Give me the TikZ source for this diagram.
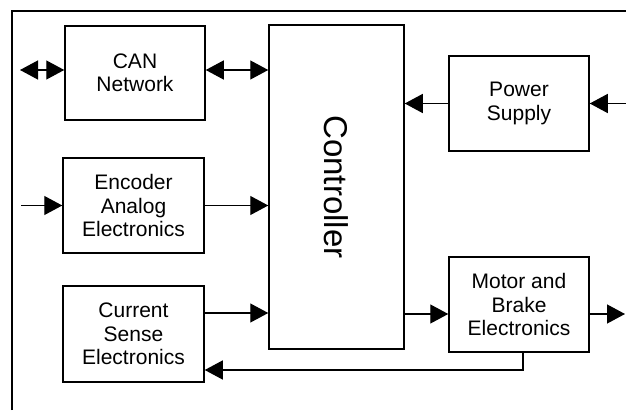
\documentclass[tikz,border=0pt]{standalone}
\usepackage{fontspec}
\setmainfont{Liberation Sans}
\usepackage{tikz}
\usetikzlibrary{arrows.meta,positioning,calc}

\begin{document}
\begin{tikzpicture}[x=1pt,y=1pt,>={Triangle[length=18pt,width=19pt]},
  blk/.style={draw,line width=1.5pt,align=center,inner sep=0pt,
    font=\fontsize{21}{23.5}\selectfont},
  sig/.style={line width=1.3pt}]
  \useasboundingbox (0,0) rectangle (626,410);
  % frame (cut off at right and bottom)
  \draw[line width=1.5pt] (12,0) -- (12,399) -- (626,399);
  % blocks
  \node[blk,minimum width=135pt,minimum height=324pt] (ctrl) at (336.5,223)
    {\rotatebox{-90}{\fontsize{33}{36}\selectfont Controller}};
  \node[blk,minimum width=140pt,minimum height=94pt] (can) at (135,337) {CAN\\Network};
  \node[blk,minimum width=141pt,minimum height=95pt] (enc) at (133.5,204.5) {Encoder\\Analog\\Electronics};
  \node[blk,minimum width=141pt,minimum height=96pt] (cur) at (133.5,76) {Current\\Sense\\Electronics};
  \node[blk,minimum width=140pt,minimum height=95pt] (power) at (519,306.5) {Power\\Supply};
  \node[blk,minimum width=140pt,minimum height=95pt] (motor) at (519,105.5) {Motor and\\Brake\\Electronics};
  % free ends
  \coordinate (canL) at (20,340);
  \coordinate (encin) at (21,204.5);
  \coordinate (psin) at (626,306.5);
  \coordinate (motout) at (625,96);
  \coordinate (fb) at (523,40);
  % CAN bus
  \draw[sig,<->] (canL) -- (canL -| can.west);
  \draw[sig,<->] (can.east |- canL) -- (canL -| ctrl.west);
  % encoder
  \draw[sig,->] (encin) -- (enc.west);
  \draw[sig,->] (enc.east) -- (enc.east -| ctrl.west);
  % current sense
  \draw[sig,->] (cur.east |- 0,97) -- (ctrl.west |- 0,97);
  % power
  \draw[sig,->] (psin) -- (power.east);
  \draw[sig,->] (power.west) -- (power.west -| ctrl.east);
  % motor
  \draw[sig,->] (ctrl.east |- motout) -- (motor.west |- motout);
  \draw[sig,->] (motor.east |- motout) -- (motout);
  \draw[sig,->] (motor.south -| fb) -- (fb) -- (fb -| cur.east);
\end{tikzpicture}
\end{document}
